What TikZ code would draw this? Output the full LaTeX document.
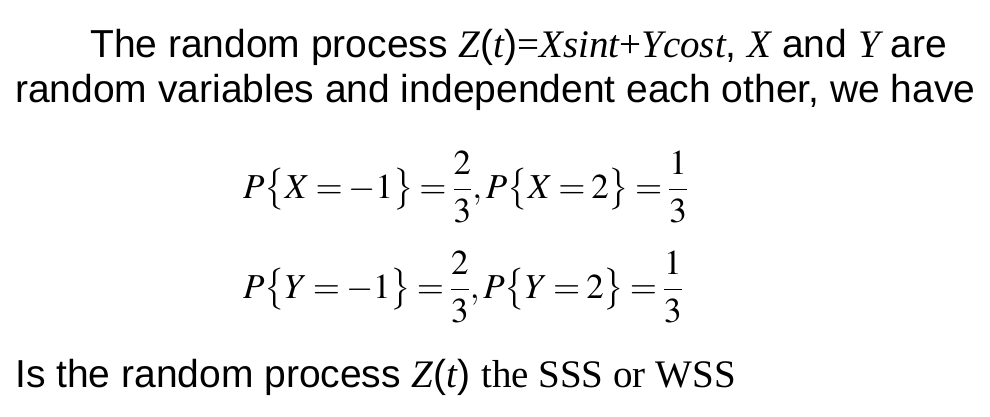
\documentclass[tikz,border=0pt]{standalone}
\usepackage{amsmath}
\usepackage{mathptmx}
\usepackage{fontspec}
\setmainfont{Liberation Sans}
\newfontfamily\tms{Liberation Serif}
\tikzset{txt/.style={anchor=base west,inner sep=0pt,font=\fontsize{39}{44}\selectfont},
 eq/.style={anchor=west,inner sep=0pt,font=\fontsize{35}{40}\selectfont}}
\begin{document}
\begin{tikzpicture}[x=1pt,y=-1pt]
\useasboundingbox (0,0) rectangle (990,416);
\node[txt] (l1) at (90,57) {The random process {\tms\itshape Z}({\tms\itshape t}){\tms=\itshape Xsint}{\tms+}{\tms\itshape Ycost}, {\tms\itshape X} and {\tms\itshape Y} are};
\node[txt] (l2) at (15,102) {random variables and independent each other, we have};
\node[eq] (e1) at (243,187) {\medmuskip=2mu\thickmuskip=3mu$P\bigl\{X=-1\bigr\}=\dfrac{2}{3},P\bigl\{X=2\bigr\}=\dfrac{1}{3}$};
\node[eq] (e2) at (243,287) {\medmuskip=2mu\thickmuskip=3mu$P\bigl\{Y=-1\bigr\}=\dfrac{2}{3},P\bigl\{Y=2\bigr\}=\dfrac{1}{3}$};
\node[txt] (l3) at (15,387) {Is the random process {\tms\itshape Z}({\tms\itshape t}) {\tms the SSS or WSS}};
\end{tikzpicture}
\end{document}
